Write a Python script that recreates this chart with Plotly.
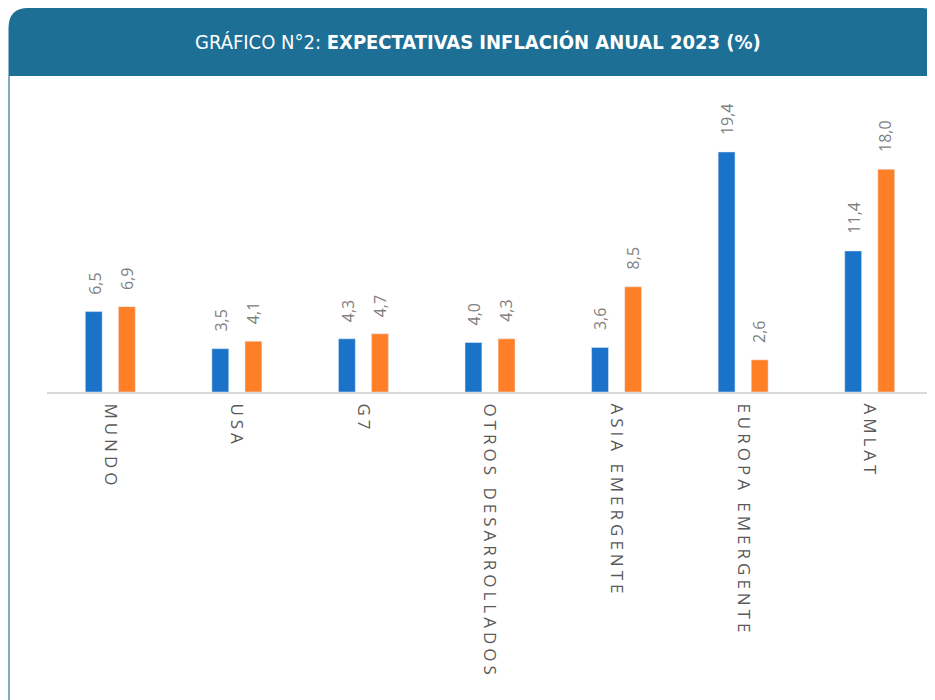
import plotly.graph_objects as go

categories = ["MUNDO", "USA", "G7", "OTROS DESARROLLADOS", "ASIA EMERGENTE", "EUROPA EMERGENTE", "AMLAT"]
serie_1 = [6.5, 3.5, 4.3, 4.0, 3.6, 19.4, 11.4]
serie_2 = [6.9, 4.1, 4.7, 4.3, 8.5, 2.6, 18.0]

BLUE = "#1B72C9"
ORANGE = "#FF7F27"
HEADER = "#1D6F95"

OFF = 8  # page body margin
W, H = 935, 700
L, R, T, B = 47 - OFF, 18 - OFF, 100 - OFF, 700 - (392 - OFF)
PW, PH = W - L - R, H - T - B
YMAX = 23.6


def fmt(v):
    return f"{v:.1f}".replace(".", ",")


def px(x, y):
    # page pixel coordinates -> paper coordinates
    x -= OFF
    y -= OFF
    return (x - L) / PW, (H - B - y) / PH


fig = go.Figure()
fig.add_bar(x=categories, y=serie_1, marker_color=BLUE, name="s1", hoverinfo="skip")
fig.add_bar(x=categories, y=serie_2, marker_color=ORANGE, name="s2", hoverinfo="skip")

annotations = []
for cat, a, b in zip(categories, serie_1, serie_2):
    for v, sh in ((a, -16), (b, 16)):
        annotations.append(dict(
            x=cat, y=v, xref="x", yref="y", text=fmt(v), showarrow=False,
            textangle=-90, xshift=sh, yshift=15, yanchor="bottom", xanchor="center",
            font=dict(family="Open Sans, Liberation Sans, sans-serif", size=16, color="#808080"),
        ))

# title
tx, ty = px(478, 42)
annotations.append(dict(
    x=tx, y=ty, xref="paper", yref="paper", showarrow=False, xanchor="center", yanchor="middle",
    text="GRÁFICO N°2: <b>EXPECTATIVAS INFLACIÓN ANUAL 2023 (%)</b>",
    font=dict(family="Liberation Sans Narrow, DejaVu Sans Condensed, Roboto, sans-serif", size=20, color="white"),
))

# header path with rounded top corners
x0, x1, y0, y1 = 8.5, 948, 8, 76
rl, rr = 20, 13
pts = [
    ("M", [(x0, y1)]),
    ("L", [(x0, y0 + rl)]),
    ("Q", [(x0, y0), (x0 + rl, y0)]),
    ("L", [(935 - rr, y0)]),
    ("Q", [(935, y0), (935, y0 + rr)]),
    ("L", [(x1, y0 + rr)]),
    ("L", [(x1, y1)]),
    ("Z", []),
]
path = ""
for cmd, ps in pts:
    path += cmd
    for (xx, yy) in ps:
        a, b = px(xx, yy)
        path += f" {a:.5f},{b:.5f} "
shapes = [
    dict(type="path", xref="paper", yref="paper", path=path, fillcolor=HEADER, line=dict(width=0), layer="above"),
]
lx0, ly0 = px(9, 76)
lx1, ly1 = px(9, 712)
shapes.append(dict(type="line", xref="paper", yref="paper", x0=lx0, y0=ly0, x1=lx1, y1=ly1,
                   line=dict(color="#5A8DB2", width=1.5)))

fig.update_layout(
    width=W, height=H,
    margin=dict(l=L, r=R, t=T, b=B, autoexpand=False),
    paper_bgcolor="white", plot_bgcolor="white",
    showlegend=False,
    bargap=0.477, bargroupgap=0.49,
    annotations=annotations,
    shapes=shapes,
    xaxis=dict(
        showline=True, linecolor="#D9D9D9", linewidth=2,
        ticks="outside", ticklen=6, tickcolor="rgba(0,0,0,0)",
        tickangle=90, showgrid=False,
        tickfont=dict(family="Open Sans, Liberation Sans, sans-serif", size=17, color="#595959"),
    ),
    yaxis=dict(range=[0, YMAX], visible=False, showgrid=False, zeroline=False),
)

post = """
var gd = document.getElementById('{plot_id}');
function ls(){ gd.querySelectorAll('.xtick text').forEach(function(t){ t.style.letterSpacing='4px'; }); }
ls();
gd.on && gd.on('plotly_afterplot', ls);
"""
fig.write_html("out.html", post_script=post)
